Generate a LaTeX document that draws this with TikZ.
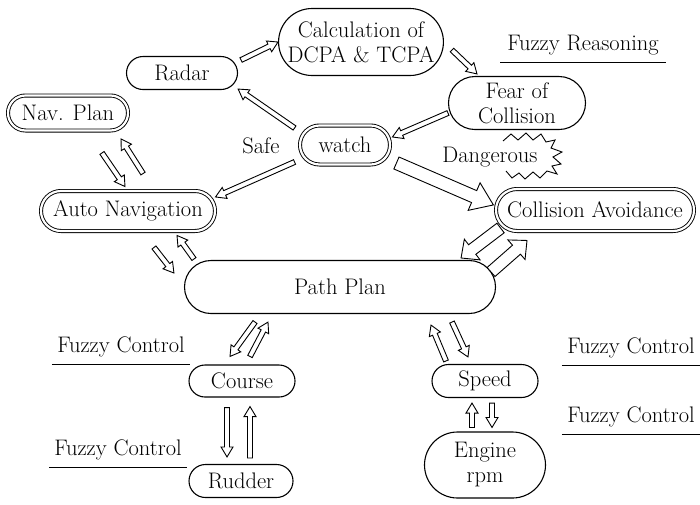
\documentclass[tikz,border=0pt]{standalone}
\usepackage{tikz}
\usetikzlibrary{calc}
\usetikzlibrary{shapes.misc}
\newcommand{\blockarrow}[5]{ \draw[arrowline] let \p1=(#4), \p2=(#5), \n1={atan2(\y2-\y1,\x2-\x1)}, \n2={veclen(\x2-\x1,\y2-\y1)} in [shift={(\p1)},rotate=\n1] (0pt,-#1) -- ({\n2-#3},-#1) -- ({\n2-#3},-#2) -- (\n2,0pt) -- ({\n2-#3},#2) -- ({\n2-#3},#1) -- (0pt,#1) -- cycle;}
\newcommand{\thinarrow}[2]{\blockarrow{2.5pt}{6pt}{10pt}{#1}{#2}}
\newcommand{\fatarrow}[2]{\blockarrow{6.5pt}{15pt}{21pt}{#1}{#2}}
\newcommand{\tagline}[1]{\draw[line width=0.9pt] (#1.south west) -- (#1.south east);}

\begin{document}
\begin{tikzpicture}[x=1pt,y=-1pt,
  font=\fontsize{22.5}{25}\selectfont,
  box/.style={rounded rectangle, draw, line width=1.1pt, inner sep=2pt, align=center},
  dbox/.style={box, double, double distance=2.2pt, line width=0.9pt},
  arrowline/.style={fill=white, line width=0.9pt},
  tag/.style={inner xsep=0pt, inner ysep=7pt}]
\useasboundingbox (0,0) rectangle (700,504);
% upper part: reasoning
\node[box, minimum width=157, minimum height=67] (dcpa) at (361,42) {Calculation of\\DCPA \& TCPA};
\node[box, minimum width=115, minimum height=33] (radar) at (182,73) {Radar};
\node[dbox, minimum width=124, minimum height=35] (navplan) at (68,113) {Nav. Plan};
\node[dbox, minimum width=94, minimum height=39] (watch) at (345,145) {watch};
\node[box, minimum width=141, minimum height=53] (fear) at (517,103) {Fear of\\Collision};
\node (safe) at (261,146) {Safe};
\node (danger) at (490,157) {Dangerous};
\draw[line width=0.9pt] (503,141) -- (511,134) -- (518,140) -- (526,133) -- (533,140) -- (541,134) -- (546,142) -- (555,140) -- (551,148)
  -- (562,152) -- (553,157) -- (561,164) -- (552,166) -- (557,174)
  -- (547,171) -- (540,178) -- (533,172) -- (525,179) -- (519,173) -- (512,178) -- (506,171);
\node[tag, minimum width=165] (freason) at (583,45) {Fuzzy Reasoning};
\tagline{freason}
% middle part: navigation
\node[dbox, minimum width=178, minimum height=40] (autonav) at (128,211) {Auto Navigation};
\node[dbox, minimum width=202, minimum height=42] (colavoid) at (595,210) {Collision Avoidance};
\node[box, minimum width=315, minimum height=53] (pathplan) at (340,287) {Path Plan};
% lower part: control
\node[box, minimum width=110, minimum height=32] (course) at (242,381) {Course};
\node[box, minimum width=108, minimum height=33] (rudder) at (241,481) {Rudder};
\node[box, minimum width=110, minimum height=33] (speed) at (485,381) {Speed};
\node[box, minimum width=125, minimum height=66] (engine) at (485,465) {Engine\\rpm};
\node[tag, minimum width=138] (fcourse) at (121,347) {Fuzzy Control};
\tagline{fcourse}
\node[tag, minimum width=137] (frudder) at (118,450) {Fuzzy Control};
\tagline{frudder}
\node[tag, minimum width=138] (fspeed) at (631,348) {Fuzzy Control};
\tagline{fspeed}
\node[tag, minimum width=138] (fengine) at (631,417) {Fuzzy Control};
\tagline{fengine}
% arrows
\thinarrow{$(radar.east)+(3,-13)$}{dcpa.west}
\thinarrow{$(watch.west)+(-5,-17)$}{$(radar.east)+(0,16)$}
\thinarrow{$(watch.west)+(-5,17)$}{$(autonav.east)+(0,-14)$}
\thinarrow{$(dcpa.east)+(8,8)$}{$(fear.north)+(-40,-2)$}
\thinarrow{$(fear.west)+(0,10)$}{$(watch.east)+(2,-8)$}
\fatarrow{$(watch.east)+(6,18)$}{$(colavoid.west)+(-2,-5)$}
\blockarrow{6pt}{13pt}{14pt}{$(colavoid.west)+(5,18)$}{$(pathplan.east)+(-35,-29)$}
\blockarrow{6pt}{13pt}{14pt}{$(pathplan.east)+(-5,-15)$}{$(colavoid.south)+(-68,9)$}
\thinarrow{$(navplan.south)+(34,22)$}{$(autonav.north)+(-3,-4)$}
\thinarrow{$(autonav.north)+(15,-17)$}{$(navplan.south)+(53,8)$}
\thinarrow{$(autonav.south)+(26,16)$}{$(pathplan.west)+(-10,-14)$}
\thinarrow{$(pathplan.west)+(10,-28)$}{$(autonav.south)+(49,4)$}
\thinarrow{$(pathplan.south)+(-85,8)$}{$(course.north)+(-12,-8)$}
\thinarrow{$(course.north)+(8,-8)$}{$(pathplan.south)+(-72,8)$}
\thinarrow{$(course.south)+(-15,10)$}{$(rudder.north)+(-14,-7)$}
\thinarrow{$(rudder.north)+(9,-6)$}{$(course.south)+(8,9)$}
\thinarrow{$(speed.north)+(-39,-3)$}{$(pathplan.south)+(91,11)$}
\thinarrow{$(pathplan.south)+(112,8)$}{$(speed.north)+(-17,-7)$}
\thinarrow{$(engine.north)+(-13,-4)$}{$(speed.south)+(-13,5)$}
\thinarrow{$(speed.south)+(7,5)$}{$(engine.north)+(7,-4)$}
\end{tikzpicture}
\end{document}
